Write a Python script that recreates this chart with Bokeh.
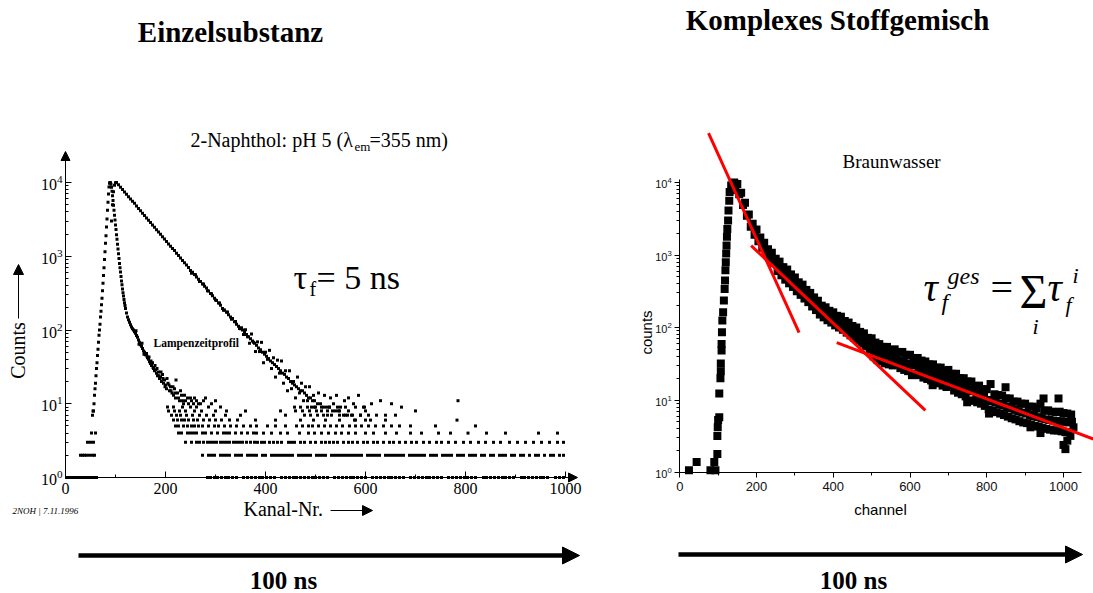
import math
from bokeh.plotting import figure
from bokeh.models import (Label, Arrow, NormalHead, Range1d, FixedTicker, LinearAxis, LogAxis,
                          LogTickFormatter, BasicTickFormatter, Grid)
from bokeh.layouts import row
from bokeh.embed import file_html
from bokeh.resources import INLINE

# ======================= DATA: left chart (2-Naphthol, pH 5) =======================
# lamp time profile (Lampenzeitprofil): rise, fall, tail
lamp_ch = list(range(54, 121)) + [122, 124, 126, 128] + list(range(130, 202, 2)) + \
    [202, 205, 208, 210, 213, 216, 218, 220, 224, 228, 232, 236, 240, 246, 250, 256, 262, 270, 280, 292, 300]
lamp_cnt = [7, 8, 8, 10, 13, 16, 19, 24, 30, 36, 45, 55, 68, 85, 100, 120, 150, 180, 220, 270,
            340, 430, 550, 700, 900, 1150, 1500, 1900, 2500, 3200, 4200, 5400, 7000, 8700, 9800, 10000,
            9900, 9500, 8600, 7600, 6600, 5700, 4900, 4200, 3600, 3100, 2650, 2300, 1950, 1700, 1450,
            1250, 1080, 930, 800, 700, 610, 530, 460, 410, 360, 320, 290, 260, 235, 215, 195,
            170, 150, 138, 127,
            118, 110, 104, 100, 95, 90, 84, 80, 73, 68, 63, 60, 56, 52, 50, 46, 48, 42, 40, 37,
            35, 33, 36, 30, 28, 29, 26, 24, 27, 22, 23, 20, 25, 19, 21, 18,
            16, 19, 15, 17, 14, 13, 16, 12, 14, 11, 13, 10, 11, 10, 12, 10, 11, 10, 12, 10, 11]
lamp_scatter_ch = [141, 147, 153, 157, 163, 167, 171, 175, 179, 183, 187, 191, 195, 199, 203,
                   207, 211, 215, 219, 221, 226, 230, 234, 238, 244, 252, 258, 266, 276]
lamp_scatter_cnt = [98, 64, 66, 47, 44, 43, 38, 31, 33, 30, 24, 27, 22, 17, 22,
                    18, 15, 17, 14, 21, 12, 15, 11, 13, 12, 11, 12, 10, 11]

# fluorescence decay of 2-Naphthol
sample_ch = [92, 94, 96, 98, 100] + list(range(102, 351, 4)) + list(range(354, 479, 4)) + \
    [482, 486, 490, 494, 498, 504, 510, 516, 522, 528, 534, 540, 548, 556, 564, 572, 580, 590, 600]
sample_cnt = [3000, 5000, 7500, 9200, 9900,
              10000, 9290, 8630, 8020, 7450, 6920, 6430, 5970, 5550, 5250, 4790, 4450, 4130, 3840,
              3560, 3310, 3080, 2860, 2650, 2470, 2290, 2130, 1980, 1840, 1710, 1580, 1470, 1370,
              1270, 1200, 1100, 1020, 946, 879, 817, 759, 705, 640, 608, 565, 525, 488, 453, 421,
              391, 370, 337, 313, 291, 270, 251, 233, 217, 196, 187, 174, 161, 150, 143, 129, 120,
              112, 104,
              100, 94, 87, 81, 76, 71, 66, 62, 57, 54, 50, 47, 44, 41, 38, 36, 34, 32, 30, 28,
              26, 25, 23, 22, 20, 19, 18, 17, 16, 15, 15, 14,
              13, 12, 12, 11, 11, 10, 10, 9, 9, 9, 8, 8, 8, 7, 7, 7, 6, 7, 6]
sample_noise_ch = [252, 260, 268, 276, 284, 292, 300, 308, 316, 324, 332, 340, 348] + \
    list(range(352, 501, 4)) + \
    [506, 512, 518, 524, 530, 536, 542, 550, 558, 566, 576, 586, 596, 612, 630, 652, 672, 700, 785]
sample_noise_cnt = [590, 560, 455, 420, 340, 310, 255, 232, 185, 176, 140, 130, 105,
                    107, 87, 101, 81, 66, 88, 68, 51, 69, 51, 68, 36, 50, 40, 53, 30, 42, 23, 39, 26,
                    38, 19, 28, 15, 28, 16, 20, 12, 23, 14, 19, 11, 17, 11, 17, 9, 13, 9,
                    14, 8, 13, 7, 12, 10, 13, 9, 11, 12, 10, 13, 9, 10, 11, 10, 9, 8, 11]

# background floor: channels where counts of 1 ... 9 were recorded
floor_row1_ch = [2, 5, 8, 11, 14, 17, 20, 23, 26, 29, 32, 35, 38, 41, 44, 47, 50, 53, 56, 59, 62,
                 284, 290, 298, 304, 312, 320, 326, 334, 342, 356, 364, 372, 380, 388, 394, 402, 410,
                 418, 432, 440, 448, 456, 462, 470, 478, 486, 494, 500, 508, 516, 524, 538, 546, 554,
                 562, 570, 576, 584, 592, 600, 614, 622, 630, 638, 646, 652, 660, 668, 676, 690, 698,
                 706, 714, 722, 728, 736, 744, 752, 766, 774, 782, 790, 798, 804, 812, 820, 836, 842,
                 850, 858, 866, 874, 880, 888, 896, 912, 918, 926, 934, 942, 950, 956, 964, 980, 988, 996]
floor_row2_ch = [30, 34, 38, 42, 48, 54, 58,
                 274, 286, 292, 298, 310, 316, 322, 328, 340, 346, 352, 364, 370, 376, 382, 394, 400,
                 412, 418, 424, 430, 436, 442, 448, 454, 466, 472, 478, 484, 490, 502, 508, 514, 520,
                 532, 538, 544, 550, 556, 562, 568, 574, 580, 586, 592, 604, 610, 616, 622, 628, 640,
                 646, 652, 658, 664, 670, 676, 688, 694, 700, 706, 712, 718, 730, 736, 742, 754, 760,
                 766, 772, 784, 790, 796, 808, 814, 820, 832, 838, 850, 856, 868, 874, 880, 892, 898,
                 910, 916, 928, 940, 946, 958, 970, 976, 988, 996]
floor_row3_ch = [44, 50, 56,
                 240, 252, 262, 268, 276, 284, 290, 296, 302, 310, 316, 322, 328, 336, 342, 348, 354,
                 362, 370, 378, 384, 392, 398, 408, 416, 424, 432, 446, 452, 458, 470, 478, 490, 500,
                 512, 520, 528, 536, 544, 556, 566, 574, 584, 596, 604, 616, 624, 636, 648, 656, 668,
                 680, 692, 702, 716, 728, 742, 752, 766, 780, 796, 810, 826, 840, 856, 870, 888, 904,
                 920, 936, 952, 968, 984, 996]
floor_row4_ch = [52, 60, 226, 232, 244, 250, 256, 262, 274, 280, 292, 304, 316, 322, 328, 340, 352,
                 364, 376, 382, 396, 412, 430, 444, 468, 486, 498, 512, 526, 540, 552, 566, 580, 600,
                 616, 640, 662, 690, 712, 746, 770, 805, 842, 880, 946, 984]
floor_row5_ch = [220, 226, 236, 244, 252, 258, 266, 274, 286, 298, 306, 318, 330, 342, 356, 370, 382,
                 404, 420, 440, 462, 474, 486, 494, 506, 518, 530, 542, 554, 568, 580, 592, 606, 620,
                 636, 652, 668, 690, 740, 820]
floor_row6_ch = [216, 224, 232, 238, 246, 256, 264, 276, 288, 300, 312, 328, 344, 380, 420, 470, 496,
                 520, 548, 578, 610, 640, 783]
floor_row7_ch = [212, 222, 230, 242, 254, 268, 282, 296, 320, 350, 440, 478, 490, 504, 516, 532, 548,
                 560, 574, 590, 606, 622, 640, 660]
floor_row8_ch = [206, 218, 228, 240, 258, 272, 300, 322, 360, 430, 460, 474, 488, 502, 524, 546, 566, 600]
floor_row9_ch = [204, 216, 234, 250, 262, 286, 310, 458, 470, 484, 498, 512, 528, 544, 560, 580, 598]
floor_rows = [(1, floor_row1_ch), (2, floor_row2_ch), (3, floor_row3_ch), (4, floor_row4_ch),
              (5, floor_row5_ch), (6, floor_row6_ch), (7, floor_row7_ch), (8, floor_row8_ch),
              (9, floor_row9_ch)]

# ======================= DATA: right chart (Braunwasser) =======================
bw_rise_ch = [24, 44, 80, 90, 93, 98, 98, 99, 100, 103, 103, 106, 107, 107, 109, 109, 110, 111, 113,
              115, 117, 118, 119, 120, 121, 122, 123, 124, 126, 127, 129, 130, 134, 138, 142]
bw_rise_cnt = [1.07, 1.4, 1.07, 1.4, 1.07, 1.8, 3.2, 4.2, 5.3, 5.8, 12.3, 20, 25, 32, 48, 59, 86, 125,
               162, 235, 340, 445, 615, 795, 1050, 1350, 1780, 2290, 3000, 4100, 5600, 7400, 9100,
               9800, 10000]
bw_upper_ch = list(range(140, 1021, 10))
bw_upper_cnt = [9300, 9500, 7200, 5250, 3630, 2690, 2240, 1740, 1480, 1200,
                1070, 890, 810, 680, 630, 540, 490, 420, 390, 330,
                300, 260, 234, 200, 190, 170, 162, 145, 141, 123,
                117, 105, 100, 87, 83, 72, 71, 62, 59, 54,
                54, 49, 50, 46, 46, 42, 42, 38, 38, 35,
                34, 31, 31, 28, 28, 25, 26, 23, 23, 20,
                20, 18, 18, 15.5, 15.8, 14.1, 14.1, 16.6, 12, 11.7,
                11.5, 10.5, 10.5, 9.5, 9.5, 8.9, 8.9, 8.1, 8.1, 7.6,
                8.9, 7.1, 7.2, 6.9, 6.8, 6.9, 6.6, 6.5, 6.3]
bw_mid_ch = list(range(253, 1014, 10))
bw_mid_cnt = [760, 670, 580, 510, 450, 395, 350, 315, 277, 244,
              215, 190, 170, 154, 142, 131, 122, 113, 103, 95,
              88, 80, 74, 67, 61, 52, 48, 45, 43, 41,
              39, 37, 35.5, 34, 32, 31.6, 30, 29, 27, 25.7,
              24.5, 23.4, 22.4, 21.4, 20, 19, 18.2, 17, 15.8, 14.8,
              14.1, 13.2, 12.3, 11.7, 11.2, 10, 9.7, 9.2, 8.8, 8.4,
              8.0, 7.7, 7.3, 7.0, 6.7, 6.5, 6.2, 6.0, 5.8, 5.6,
              5.4, 5.3, 5.2, 5.1, 5.1, 5.0, 4.9]
bw_lower_ch = list(range(145, 1016, 10))
bw_lower_cnt = [7900, 6900, 4900, 3470, 2450, 1900, 1550, 1260, 1050, 890,
                780, 600, 525, 457, 407, 363, 316, 282, 251, 224,
                195, 174, 151, 138, 126, 117, 107, 100, 93, 85,
                78, 72, 66, 60, 55, 50, 40, 36, 34, 32,
                31, 30, 31, 27.5, 26, 25, 22, 23, 22, 20.4,
                19.5, 18.6, 17.8, 17, 15.8, 15.1, 16, 13.5, 12.6, 12,
                11.2, 9.8, 9.8, 9.3, 8.9, 8.3, 7.4, 7.1, 6.8, 6.5,
                6.2, 5.9, 5.6, 5.4, 5.1, 4.9, 4.8, 4.6, 4.4, 4.3,
                4.1, 4.0, 3.9, 3.8, 3.8, 3.7, 3.6, 3.6]
bw_out_ch = [940, 1005, 1000, 1010, 987, 948, 849, 806, 659, 749, 914, 1026, 1018, 1022]
bw_out_cnt = [3.5, 2.1, 2.4, 2.75, 10.5, 10.5, 15, 6.5, 16, 9.3, 4.2, 4.2, 3.2, 5]
# tangent lines (mono-exponential components)
fit_x0 = [75, 186, 409]
fit_y0 = [47900, 1350, 62]
fit_x1 = [311, 640, 1078]
fit_y1 = [85, 7.2, 2.9]

x_ticks = [0, 200, 400, 600, 800, 1000]
x_minor = [100, 300, 500, 700, 900]
y_ticks = [1, 10, 100, 1000, 10000]

# ======================= geometry helpers (page pixels -> data) =======================
LX0, LPX, LY0, LDEC = 65.0, 0.5, 477.0, 73.75          # left chart mapping
RX0, RPX, RY0, RDEC = 679.25, 0.38375, 472.0, 72.5      # right chart mapping
LW, RW, H = 600, 493, 593
BASE_SHIFT = 0.38  # alphabetic baseline correction (fraction of font size)


def lconv(px, py):
    return (px - LX0) / LPX, 10 ** ((LY0 - py) / LDEC)


def rconv(px, py):
    return (px - RX0) / RPX, 10 ** ((RY0 - py) / RDEC)


def put(fig, conv, px, py, text, size, style="normal", align="left", baseline="alphabetic",
        font="Liberation Serif", angle=0.0, color="black"):
    if baseline == "alphabetic":
        py = py - BASE_SHIFT * size
    x, y = conv(px, py)
    fig.add_layout(Label(x=x, y=y, text=text, text_font=font, text_font_size=f"{size}px",
                         text_font_style=style, text_align=align, text_baseline=baseline,
                         angle=angle, text_color=color))


def arrow(fig, conv, p0, p1, width, head):
    x0, y0 = conv(*p0)
    x1, y1 = conv(*p1)
    fig.add_layout(Arrow(end=NormalHead(size=head, fill_color="black", line_color="black", line_width=1),
                         x_start=x0, y_start=y0, x_end=x1, y_end=y1,
                         line_width=width, line_color="black"))


minor_log = [m * 10 ** d for d in range(0, 4) for m in range(2, 10)]


def make_fig(width, conv, x_left_px):
    x0, y0 = conv(x_left_px, H)
    x1, y1 = conv(x_left_px + width, 0)
    p = figure(width=width, height=H, x_range=Range1d(x0, x1), y_range=Range1d(y0, y1),
               y_axis_type="log", x_axis_location=None, y_axis_location=None, title=None,
               output_backend="svg", toolbar_location=None,
               min_border_left=0, min_border_right=0, min_border_top=0, min_border_bottom=0)
    p.center = [c for c in p.center if not isinstance(c, Grid)]
    p.renderers = [r for r in p.renderers if not isinstance(r, Grid)]
    p.outline_line_color = None
    p.background_fill_color = "white"
    p.border_fill_color = "white"
    return p


def style_axis(ax, tick_in, tick_out, minor_in, minor_out, font, size, color):
    ax.axis_line_color = "black"
    ax.axis_line_width = 1
    ax.major_tick_in = tick_in
    ax.major_tick_out = tick_out
    ax.minor_tick_in = minor_in
    ax.minor_tick_out = minor_out
    ax.major_tick_line_color = "black"
    ax.minor_tick_line_color = "black"
    ax.major_label_text_font = font
    ax.major_label_text_font_size = size
    ax.major_label_text_color = color


# ======================= left figure =======================
pL = make_fig(LW, lconv, 0)
lx_top = (575 - LX0) / LPX
ly_top = 10 ** ((LY0 - 152) / LDEC)
xaL = LinearAxis(fixed_location=1, bounds=(0, lx_top),
                 ticker=FixedTicker(ticks=x_ticks, minor_ticks=x_minor),
                 formatter=BasicTickFormatter())
yaL = LogAxis(fixed_location=0, bounds=(1, ly_top),
              ticker=FixedTicker(ticks=y_ticks, minor_ticks=minor_log),
              formatter=LogTickFormatter())
style_axis(xaL, 6, 0, 3, 0, "Liberation Serif", "16px", "black")
style_axis(yaL, 6, 0, 3, 0, "Liberation Serif", "16px", "black")
xaL.major_label_standoff = 5
yaL.major_label_standoff = 3
pL.add_layout(xaL, "below")
pL.add_layout(yaL, "left")

pts_x, pts_y = [], []
pts_x += lamp_ch; pts_y += lamp_cnt
pts_x += lamp_scatter_ch; pts_y += lamp_scatter_cnt
pts_x += sample_ch; pts_y += sample_cnt
pts_x += sample_noise_ch; pts_y += sample_noise_cnt
for level, chans in floor_rows:
    pts_x += chans
    pts_y += [level] * len(chans)
pL.scatter(pts_x, pts_y, marker="square", size=3, color="black", line_width=0)

# axis arrow heads
arrow(pL, lconv, (65, 175), (65, 151), 1, 9)
arrow(pL, lconv, (555, 477), (577, 477), 1, 9)

put(pL, lconv, 230, 43, "Einzelsubstanz", 29, style="bold", align="center")
put(pL, lconv, 190, 147, "2-Naphthol: pH 5 (λ", 20)
put(pL, lconv, 354, 151, "em", 13)
put(pL, lconv, 369, 147, "=355 nm)", 20)
put(pL, lconv, 293, 290, "τ", 34)
put(pL, lconv, 309, 296, "f", 20)
put(pL, lconv, 316, 290, "= 5 ns", 34)
put(pL, lconv, 153, 342, "Lampenzeitprofil", 11.5, style="bold", baseline="middle")
put(pL, lconv, 17, 350, "Counts", 20, align="center", baseline="middle", angle=math.pi / 2)
arrow(pL, lconv, (18, 318), (18, 264), 1, 10)
put(pL, lconv, 243, 516, "Kanal-Nr.", 20)
arrow(pL, lconv, (330, 510), (372, 510), 1, 10)
put(pL, lconv, 12, 514, "2NOH | 7.11.1996", 9, style="italic")
arrow(pL, lconv, (78, 555), (579, 555), 4.5, 17)
put(pL, lconv, 283, 589, "100 ns", 25, style="bold", align="center")

# ======================= right figure =======================
pR = make_fig(RW, rconv, LW)
xaR = LinearAxis(fixed_location=1, bounds=(0, 1047),
                 ticker=FixedTicker(ticks=x_ticks, minor_ticks=x_minor),
                 formatter=BasicTickFormatter())
yaR = LogAxis(fixed_location=0, bounds=(1, 10 ** 4.04),
              ticker=FixedTicker(ticks=y_ticks, minor_ticks=minor_log),
              formatter=LogTickFormatter())
style_axis(xaR, 0, 5, 0, 3, "Liberation Sans", "13px", "#111111")
style_axis(yaR, 0, 5, 0, 3, "Liberation Sans", "11px", "#111111")
xaR.major_label_standoff = 4
yaR.major_label_standoff = 3
pR.add_layout(xaR, "below")
pR.add_layout(yaR, "left")

bx = bw_rise_ch + bw_upper_ch + bw_mid_ch + bw_lower_ch + bw_out_ch
by = bw_rise_cnt + bw_upper_cnt + bw_mid_cnt + bw_lower_cnt + bw_out_cnt
pR.scatter(bx, by, marker="square", size=8, color="black", line_width=0)
pR.segment(x0=fit_x0, y0=fit_y0, x1=fit_x1, y1=fit_y1, line_color="#ff0000", line_width=3)

put(pR, rconv, 837, 31, "Komplexes Stoffgemisch", 29, style="bold", align="center")
put(pR, rconv, 842, 168, "Braunwasser", 19)
put(pR, rconv, 646, 332, "counts", 15, align="center", baseline="middle",
    font="Liberation Sans", angle=math.pi / 2)
put(pR, rconv, 880, 515, "channel", 15, align="center", font="Liberation Sans")
# formula  tau_f^ges = sum_i tau_f^i
put(pR, rconv, 923, 302, "τ", 40, style="italic")
put(pR, rconv, 941, 311, "f", 24, style="italic")
put(pR, rconv, 947, 285, "ges", 24, style="italic")
put(pR, rconv, 990, 302, "=", 40)
put(pR, rconv, 1019, 309, "Σ", 48)
put(pR, rconv, 1035, 334, "i", 22, style="italic", align="center")
put(pR, rconv, 1047, 302, "τ", 40, style="italic")
put(pR, rconv, 1072, 283, "i", 22, style="italic")
put(pR, rconv, 1065, 312, "f", 22, style="italic")
arrow(pR, rconv, (678, 554), (1082, 554), 4.5, 17)
put(pR, rconv, 853, 589, "100 ns", 25, style="bold", align="center")

layout = row(pL, pR)
open("out.html", "w").write(file_html(layout, INLINE))
